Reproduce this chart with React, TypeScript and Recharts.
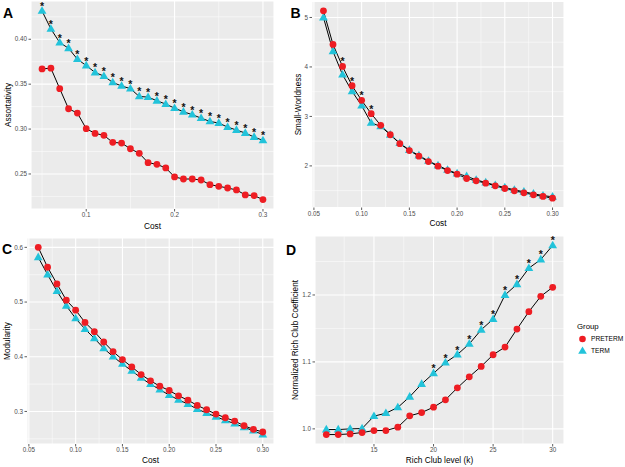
import React from 'react';
import { ComposedChart, Line, XAxis, YAxis, CartesianGrid, ReferenceLine, Legend, Label } from 'recharts';

const FONT = '"Liberation Sans", Arial, Helvetica, sans-serif';
const RED = '#EE1D23';
const CYAN = '#22C3DA';

// ---------- Panel A: Assortativity ----------
const costA = [0.05, 0.06, 0.07, 0.08, 0.09, 0.10, 0.11, 0.12, 0.13, 0.14, 0.15, 0.16, 0.17, 0.18, 0.19, 0.20, 0.21, 0.22, 0.23, 0.24, 0.25, 0.26, 0.27, 0.28, 0.29, 0.30];
const pretermA = [0.367, 0.3678, 0.345, 0.3226, 0.3178, 0.3004, 0.2952, 0.293, 0.2852, 0.2844, 0.2781, 0.273, 0.2626, 0.2607, 0.2567, 0.2467, 0.2444, 0.2444, 0.2433, 0.2381, 0.2363, 0.2344, 0.2322, 0.2267, 0.2259, 0.2215];
const termA = [0.4315, 0.4115, 0.3963, 0.39, 0.3778, 0.3707, 0.363, 0.359, 0.3519, 0.348, 0.345, 0.3363, 0.3356, 0.3315, 0.3278, 0.3233, 0.3193, 0.316, 0.3122, 0.3085, 0.3067, 0.3022, 0.2989, 0.2956, 0.2911, 0.2874];
const starsA = [0.05, 0.06, 0.07, 0.08, 0.09, 0.10, 0.11, 0.12, 0.13, 0.14, 0.15, 0.16, 0.17, 0.18, 0.19, 0.20, 0.21, 0.22, 0.23, 0.24, 0.25, 0.26, 0.27, 0.28, 0.29, 0.30];

// ---------- Panel B: Small-Worldness ----------
const costBC = [0.06, 0.07, 0.08, 0.09, 0.10, 0.11, 0.12, 0.13, 0.14, 0.15, 0.16, 0.17, 0.18, 0.19, 0.20, 0.21, 0.22, 0.23, 0.24, 0.25, 0.26, 0.27, 0.28, 0.29, 0.30];
const pretermB = [5.134, 4.455, 4.01, 3.62, 3.325, 3.056, 2.82, 2.63, 2.45, 2.31, 2.196, 2.088, 1.994, 1.906, 1.833, 1.745, 1.698, 1.651, 1.597, 1.543, 1.496, 1.456, 1.416, 1.382, 1.348];
const termB = [5.0, 4.314, 3.843, 3.507, 3.218, 2.868, 2.8, 2.63, 2.46, 2.32, 2.21, 2.1, 2.007, 1.92, 1.846, 1.79, 1.718, 1.664, 1.61, 1.563, 1.516, 1.476, 1.436, 1.4, 1.375];
const starsB = [0.08, 0.09, 0.10, 0.11];

// ---------- Panel C: Modularity ----------
const pretermC = [0.6, 0.5636, 0.5332, 0.5035, 0.4852, 0.4628, 0.4458, 0.427, 0.4094, 0.3948, 0.3814, 0.3675, 0.356, 0.3462, 0.3383, 0.3286, 0.3207, 0.311, 0.3031, 0.2952, 0.2885, 0.2824, 0.2739, 0.2673, 0.2624];
const termC = [0.5818, 0.5502, 0.5199, 0.4931, 0.4701, 0.4506, 0.4336, 0.4154, 0.4002, 0.3869, 0.3741, 0.3614, 0.3498, 0.3401, 0.3298, 0.3213, 0.3134, 0.3043, 0.297, 0.2903, 0.2837, 0.2776, 0.2709, 0.2648, 0.2576];
const starsC: number[] = [];

// ---------- Panel D: Rich club ----------
const levelD = [11, 12, 13, 14, 15, 16, 17, 18, 19, 20, 21, 22, 23, 24, 25, 26, 27, 28, 29, 30];
const pretermD = [0.9915, 0.9915, 0.9925, 0.9945, 0.9975, 0.9975, 1.0025, 1.0195, 1.0244, 1.0324, 1.0434, 1.0613, 1.0778, 1.0933, 1.1107, 1.1222, 1.149, 1.175, 1.198, 1.2115];
const termD = [0.999, 0.999, 1.0, 1.0005, 1.019, 1.0234, 1.032, 1.048, 1.067, 1.083, 1.099, 1.111, 1.127, 1.148, 1.164, 1.2, 1.216, 1.24, 1.253, 1.274];
const starsD = [20, 21, 22, 23, 24, 25, 26, 27, 28, 29, 30];

// ---------- ticks ----------
const xTicksA = [0.1, 0.2, 0.3];
const xMinorA = [0.05, 0.15, 0.25];
const yTicksA = [0.25, 0.3, 0.35, 0.4];
const yMinorA = [0.225, 0.275, 0.325, 0.375, 0.425];
const xTicksBC = [0.05, 0.1, 0.15, 0.2, 0.25, 0.3];
const xMinorBC = [0.075, 0.125, 0.175, 0.225, 0.275];
const yTicksB = [2, 3, 4, 5];
const yMinorB = [1.5, 2.5, 3.5, 4.5];
const yTicksC = [0.3, 0.4, 0.5, 0.6];
const yMinorC = [0.25, 0.35, 0.45, 0.55];
const xTicksD = [15, 20, 25, 30];
const xMinorD = [12.5, 17.5, 22.5, 27.5];
const yTicksD = [1.0, 1.1, 1.2];
const yMinorD = [1.05, 1.15, 1.25];

const groups = [
  { name: 'PRETERM', color: RED, shape: 'circle' },
  { name: 'TERM', color: CYAN, shape: 'triangle' },
];

const near = (a: number, b: number) => Math.abs(a - b) < 1e-9;

function StarText({ x, y }: { x: number; y: number }) {
  return (
    <text x={x} y={y - 1} textAnchor="middle" fontSize={10.5} fontWeight="bold" fontFamily={FONT} fill="#111">*</text>
  );
}

const makeCircleDot = (withStar: boolean) => (p: any) => {
  const { cx, cy, index, payload } = p;
  if (cx == null || cy == null || isNaN(cy)) return <g key={`c${index}`} />;
  return (
    <g key={`c${index}`}>
      <circle cx={cx} cy={cy} r={3.4} fill={RED} />
      {withStar && payload.star ? <StarText x={cx} y={cy} /> : null}
    </g>
  );
};

const makeTriDot = (withStar: boolean) => (p: any) => {
  const { cx, cy, index, payload } = p;
  if (cx == null || cy == null || isNaN(cy)) return <g key={`t${index}`} />;
  return (
    <g key={`t${index}`}>
      <polygon points={`${cx},${cy - 4.7} ${cx - 4.4},${cy + 2.9} ${cx + 4.4},${cy + 2.9}`} fill={CYAN} />
      {withStar && payload.star ? <StarText x={cx} y={cy} /> : null}
    </g>
  );
};

function LegendBox() {
  return (
    <svg width={62} height={42} style={{ overflow: 'visible', display: 'block' }}>
      <text x={2} y={11} fontSize={7.8} fontFamily={FONT} fill="#000">Group</text>
      {groups.map((g, i) => {
        const cy = 21 + i * 12;
        return (
          <g key={g.name}>
            {g.shape === 'circle' ? (
              <circle cx={7.5} cy={cy} r={3.3} fill={g.color} />
            ) : (
              <polygon points={`${7.5},${cy - 4.6} ${3.2},${cy + 2.8} ${11.8},${cy + 2.8}`} fill={g.color} />
            )}
            <text x={16} y={cy + 2.4} fontSize={6.6} fontFamily={FONT} fill="#000">{g.name}</text>
          </g>
        );
      })}
    </svg>
  );
}

type PanelCfg = {
  left: number; top: number; width: number; height: number;
  marginTop: number; marginRight: number; yWidth: number; xHeight: number;
  x: number[]; preterm: number[]; term: number[]; stars: number[]; starOn: 'preterm' | 'term';
  xDomain: [number, number]; yDomain: [number, number];
  xTicks: number[]; yTicks: number[]; xMinor: number[]; yMinor: number[];
  xFmt: (v: number) => string; yFmt: (v: number) => string;
  xTitle: string; yTitle: string; xTitleDy: number; yTitleX: number;
  legend?: boolean;
};

const tickStyle = { fontSize: 6.3, fill: '#4D4D4D', fontFamily: FONT };

function Panel(c: PanelCfg) {
  const data = c.x.map((v, i) => ({
    x: v,
    preterm: c.preterm[i],
    term: c.term[i],
    star: c.stars.some((s) => near(s, v)) ? 1 : 0,
  }));
  const xTitleContent = (p: any) => {
    const vb = p.viewBox || {};
    return (
      <text x={vb.x + vb.width / 2} y={vb.y + c.xTitleDy} textAnchor="middle" dominantBaseline="central" fontSize={8.3} fontFamily={FONT} fill="#000">{c.xTitle}</text>
    );
  };
  const yTitleContent = (p: any) => {
    const vb = p.viewBox || {};
    const cx = vb.x + c.yTitleX;
    const cy = vb.y + vb.height / 2;
    return (
      <text x={cx} y={cy} transform={`rotate(-90, ${cx}, ${cy})`} textAnchor="middle" dominantBaseline="central" fontSize={8.2} fontFamily={FONT} fill="#000">{c.yTitle}</text>
    );
  };
  return (
    <div style={{ position: 'absolute', left: c.left, top: c.top, width: c.width, height: c.height }}>
      <ComposedChart
        width={c.width}
        height={c.height}
        data={data}
        margin={{ top: c.marginTop, right: c.marginRight, bottom: 0, left: 0 }}
      >
        <CartesianGrid stroke="#FFFFFF" strokeWidth={1.1} fill="#EBEBEB" />
        {c.xMinor.map((v) => (
          <ReferenceLine key={`vx${v}`} x={v} stroke="#FFFFFF" strokeWidth={0.5} ifOverflow="hidden" zIndex={-50} />
        ))}
        {c.yMinor.map((v) => (
          <ReferenceLine key={`vy${v}`} y={v} stroke="#FFFFFF" strokeWidth={0.5} ifOverflow="hidden" zIndex={-50} />
        ))}
        <XAxis
          type="number"
          dataKey="x"
          domain={c.xDomain}
          ticks={c.xTicks}
          interval={0}
          allowDataOverflow
          tickFormatter={c.xFmt}
          height={c.xHeight}
          axisLine={false}
          tickLine={{ stroke: '#333333', strokeWidth: 0.8 }}
          tickSize={2.5}
          tickMargin={1.5}
          tick={tickStyle}
        >
          <Label value={c.xTitle} content={xTitleContent} />
        </XAxis>
        <YAxis
          type="number"
          domain={c.yDomain}
          ticks={c.yTicks}
          interval={0}
          allowDataOverflow
          tickFormatter={c.yFmt}
          width={c.yWidth}
          axisLine={false}
          tickLine={{ stroke: '#333333', strokeWidth: 0.8 }}
          tickSize={2.5}
          tickMargin={1.5}
          tick={tickStyle}
        >
          <Label value={c.yTitle} content={yTitleContent} />
        </YAxis>
        <Line
          dataKey="term"
          stroke="none"
          isAnimationActive={false}
          legendType="none"
          dot={makeTriDot(c.starOn === 'term')}
          activeDot={false}
        />
        <Line
          dataKey="preterm"
          stroke="none"
          isAnimationActive={false}
          legendType="none"
          dot={makeCircleDot(c.starOn === 'preterm')}
          activeDot={false}
        />
        <Line type="linear" dataKey="preterm" stroke="#000000" strokeWidth={1} dot={false} activeDot={false} isAnimationActive={false} legendType="none" />
        <Line type="linear" dataKey="term" stroke="#000000" strokeWidth={1} dot={false} activeDot={false} isAnimationActive={false} legendType="none" />
        {c.legend ? (
          <Legend
            layout="vertical"
            align="center"
            verticalAlign="middle"
            width={62}
            height={42}
            wrapperStyle={{ position: 'absolute', left: 295, top: 86, width: 62, height: 42 }}
            content={() => <LegendBox />}
          />
        ) : null}
      </ComposedChart>
    </div>
  );
}

const f1 = (v: number) => v.toFixed(1);
const f2 = (v: number) => v.toFixed(2);
const f0 = (v: number) => v.toFixed(0);

const panelLetter = (t: string, x: number, y: number) => (
  <text x={x} y={y} fontSize={14} fontWeight="bold" fontFamily={FONT} fill="#000">{t}</text>
);

export default function App() {
  return (
    <div style={{ position: 'absolute', left: 0, top: 0, width: 625, height: 467, background: '#FFFFFF', overflow: 'hidden' }}>
      <Panel
        left={0} top={0} width={280} height={235}
        marginTop={1} marginRight={6} yWidth={31} xHeight={26}
        x={costA} preterm={pretermA} term={termA} stars={starsA} starOn="term"
        xDomain={[0.0375, 0.3125]} yDomain={[0.211, 0.4426]}
        xTicks={xTicksA} yTicks={yTicksA} xMinor={xMinorA} yMinor={yMinorA}
        xFmt={f1} yFmt={f2}
        xTitle="Cost" yTitle="Assortativity" xTitleDy={17} yTitleX={8.5}
      />
      <Panel
        left={280} top={0} width={290} height={235}
        marginTop={1.5} marginRight={6} yWidth={32} xHeight={27.5}
        x={costBC} preterm={pretermB} term={termB} stars={starsB} starOn="preterm"
        xDomain={[0.048, 0.312]} yDomain={[1.159, 5.323]}
        xTicks={xTicksBC} yTicks={yTicksB} xMinor={xMinorBC} yMinor={yMinorB}
        xFmt={f2} yFmt={f0}
        xTitle="Cost" yTitle="Small-Worldness" xTitleDy={15} yTitleX={18}
      />
      <Panel
        left={0} top={232} width={280} height={235}
        marginTop={6} marginRight={6} yWidth={27} xHeight={23}
        x={costBC} preterm={pretermC} term={termC} stars={starsC} starOn="preterm"
        xDomain={[0.048, 0.312]} yDomain={[0.2405, 0.6171]}
        xTicks={xTicksBC} yTicks={yTicksC} xMinor={xMinorBC} yMinor={yMinorC}
        xFmt={f2} yFmt={f1}
        xTitle="Cost" yTitle="Modularity" xTitleDy={16} yTitleX={7.5}
      />
      <Panel
        left={280} top={232} width={345} height={235}
        marginTop={4} marginRight={61} yWidth={35} xHeight={23}
        x={levelD} preterm={pretermD} term={termD} stars={starsD} starOn="term"
        xDomain={[10.05, 30.95]} yDomain={[0.9774, 1.2881]}
        xTicks={xTicksD} yTicks={yTicksD} xMinor={xMinorD} yMinor={yMinorD}
        xFmt={f0} yFmt={f1}
        xTitle="Rich Club level (k)" yTitle="Normalized Rich Club Coefficient" xTitleDy={16} yTitleX={15}
        legend
      />
      <svg width={625} height={467} style={{ position: 'absolute', left: 0, top: 0, pointerEvents: 'none' }}>
        {panelLetter('A', 3, 18)}
        {panelLetter('B', 290.5, 18)}
        {panelLetter('C', 2, 254)}
        {panelLetter('D', 286, 255)}
      </svg>
    </div>
  );
}
